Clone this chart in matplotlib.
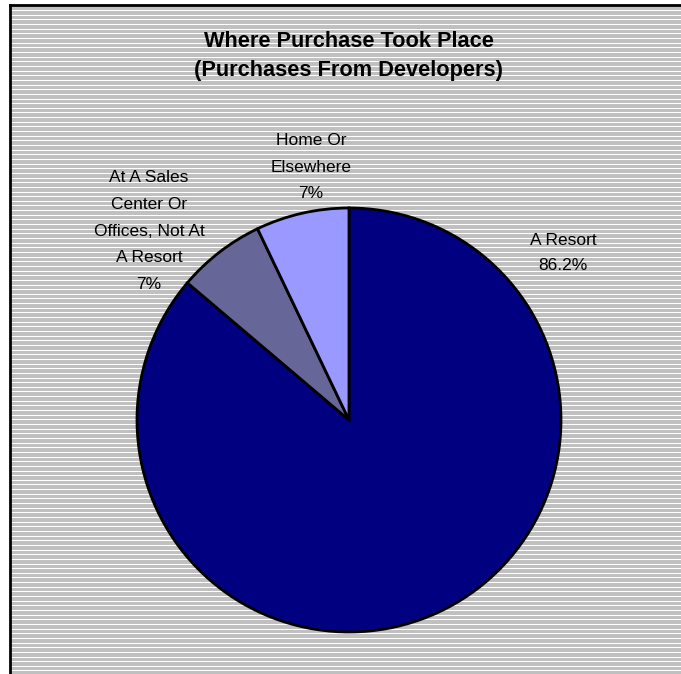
import numpy as np
import matplotlib
matplotlib.use("Agg")
import matplotlib.pyplot as plt
from matplotlib.lines import Line2D

plt.rcParams['font.family'] = ['Liberation Sans', 'DejaVu Sans']

# Data
categories = ["A Resort", "At A Sales\nCenter Or\nOffices, Not At\nA Resort", "Home Or\nElsewhere"]
values = [86.2, 6.7, 7.1]
value_labels = ["86.2%", "7%", "7%"]
colors = ["#000080", "#666699", "#9999FF"]
title = "Where Purchase Took Place\n(Purchases From Developers)"

W, H = 681, 674
fig = plt.figure(figsize=(W / 100, H / 100), dpi=100, facecolor="white")

# Striped chart-area background (gray with thin white horizontal lines)
bg = fig.add_axes([10 / W, 0, 1 - 10 / W, 1 - 5 / H])
bg.set_axis_off()
rows = H - 5
pattern = np.full((rows, 1, 3), 0.753)
for i in range(rows):
    if (i % 4.65) < 1.0:
        pattern[i, 0, :] = 1.0
bg.imshow(pattern, aspect="auto", interpolation="nearest", extent=[0, 1, 0, 1])
bg.set_xlim(0, 1)
bg.set_ylim(0, 1)

# Border on the top and left edges
fig.add_artist(Line2D([10 / W, 1], [1 - 5 / H, 1 - 5 / H], color="black", lw=2, transform=fig.transFigure))
fig.add_artist(Line2D([10 / W, 10 / W], [0, 1 - 5 / H], color="black", lw=2, transform=fig.transFigure))

# Pie
cx, cy, r = 349, 420, 212
ax = fig.add_axes([(cx - r) / W, (H - cy - r) / H, 2 * r / W, 2 * r / H])
ax.set_axis_off()
wedges, _ = ax.pie(values, colors=colors, startangle=90, counterclock=False,
                   wedgeprops=dict(edgecolor="black", linewidth=2), radius=1)
ax.set_xlim(-1, 1)
ax.set_ylim(-1, 1)
ax.set_aspect("equal")

label_pos = [(563, 253, 1.8), (149, 231, 1.97), (311, 167, 1.95)]
for cat, vl, (x, y, ls) in zip(categories, value_labels, label_pos):
    fig.text(x / W, 1 - y / H, f"{cat}\n{vl}", ha="center", va="center",
             fontsize=12.5, color="black", linespacing=ls)

fig.text(349 / W, 1 - 56 / H, title, ha="center", va="center",
         fontsize=15.7, fontweight="bold", color="black", linespacing=1.5)

fig.savefig("out.png", dpi=100, facecolor="white")
